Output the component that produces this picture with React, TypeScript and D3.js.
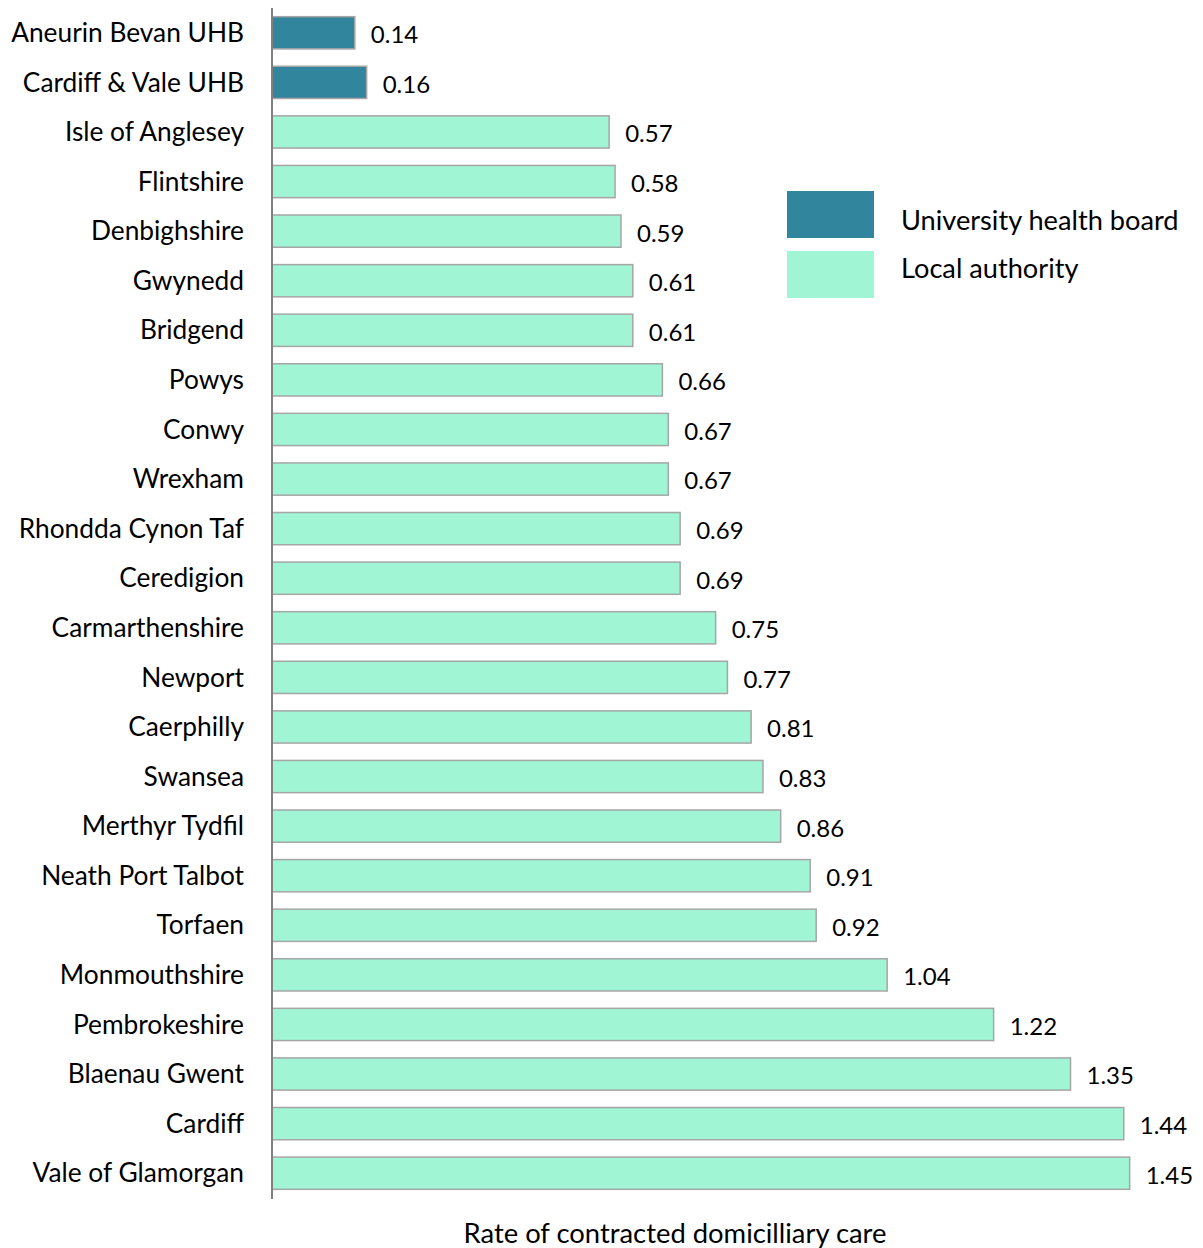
import React from "react";
import * as d3 from "d3";

const categories = [
  "Aneurin Bevan UHB", "Cardiff & Vale UHB", "Isle of Anglesey", "Flintshire", "Denbighshire",
  "Gwynedd", "Bridgend", "Powys", "Conwy", "Wrexham", "Rhondda Cynon Taf", "Ceredigion",
  "Carmarthenshire", "Newport", "Caerphilly", "Swansea", "Merthyr Tydfil", "Neath Port Talbot",
  "Torfaen", "Monmouthshire", "Pembrokeshire", "Blaenau Gwent", "Cardiff", "Vale of Glamorgan",
];
const values = [
  0.14, 0.16, 0.57, 0.58, 0.59, 0.61, 0.61, 0.66, 0.67, 0.67, 0.69, 0.69,
  0.75, 0.77, 0.81, 0.83, 0.86, 0.91, 0.92, 1.04, 1.22, 1.35, 1.44, 1.45,
];
const groups = [
  "uhb", "uhb", "la", "la", "la", "la", "la", "la", "la", "la", "la", "la",
  "la", "la", "la", "la", "la", "la", "la", "la", "la", "la", "la", "la",
];
const legendLabels = ["University health board", "Local authority"];
const xTitle = "Rate of contracted domicilliary care";

const colors: Record<string, string> = { uhb: "#31859C", la: "#A0F5D4" };
const FONT = "Lato, 'Open Sans', sans-serif";

export default function App() {
  const W = 1203, H = 1248;
  const x0 = 272;
  const x = d3.scaleLinear().domain([0, 1]).range([x0, x0 + 591.5]);
  const y = d3.scaleBand<string>().domain(categories).range([8, 1198]).paddingInner(0.35).paddingOuter(0.175);
  return (
    <svg width={W} height={H} style={{ position: "absolute", left: 0, top: 0, background: "#fff" }} fontFamily={FONT}>
      {categories.map((c, i) => {
        const yy = y(c)!;
        const cy = yy + y.bandwidth() / 2;
        return (
          <g key={c}>
            <rect x={x(0)} y={yy} width={x(values[i]) - x(0)} height={y.bandwidth()}
              fill={colors[groups[i]]} stroke="#A6A6A6" strokeWidth={1.5} />
            <text x={244} y={cy} dy="0.35em" textAnchor="end" fontSize={26.3} fill="#000">{c}</text>
            <text x={x(values[i]) + 16} y={cy + 2} dy="0.35em" fontSize={24} fill="#000">{values[i].toFixed(2)}</text>
          </g>
        );
      })}
      <line x1={x0} x2={x0} y1={8} y2={1199} stroke="#808080" strokeWidth={2} />
      {legendLabels.map((l, i) => (
        <g key={l}>
          <rect x={787} y={191 + i * 60} width={87} height={47} fill={i === 0 ? colors.uhb : colors.la} />
          <text x={901} y={220 + i * 48} dy="0.35em" fontSize={27.2} fill="#000">{l}</text>
        </g>
      ))}
      <text x={675} y={1233} dy="0.35em" textAnchor="middle" fontSize={27.4} fill="#000">{xTitle}</text>
    </svg>
  );
}
